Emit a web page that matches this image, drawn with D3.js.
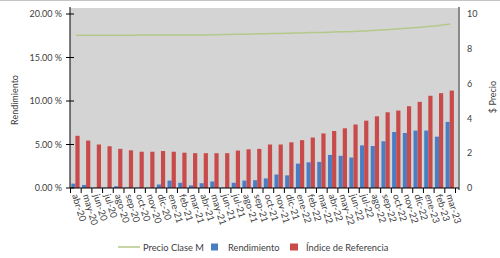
<!DOCTYPE html>
<html>
<head>
<meta charset="utf-8">
<script src="https://cdn.jsdelivr.net/npm/d3@7"></script>
<style>
  body { margin: 0; background: #fff; }
  svg text { font-family: Lato, "Liberation Sans", sans-serif; fill: #404040; }
</style>
</head>
<body>
<svg id="chart" width="500" height="258"></svg>
<script>
// monthly data, abr-20 .. mar-23
var months = ['abr-20','may-20','jun-20','jul-20','ago-20','sep-20','oct-20','nov-20','dic-20',
  'ene-21','feb-21','mar-21','abr-21','may-21','jun-21','jul-21','ago-21','sep-21','oct-21','nov-21','dic-21',
  'ene-22','feb-22','mar-22','abr-22','may-22','jun-22','jul-22','ago-22','sep-22','oct-22','nov-22','dic-22',
  'ene-23','feb-23','mar-23'];

// Rendimiento (%)
var rendimiento = [0.5,0.35,0.05,0.05,0.2,0.05,0.05,0.05,0.4,0.85,0.6,0.3,
  0.55,0.75,0.05,0.6,0.85,0.9,1.1,1.55,1.45,2.8,2.95,3.0,
  3.8,3.7,3.5,4.9,4.83,5.37,6.44,6.32,6.6,6.6,5.9,7.6];

// Indice de Referencia (%)
var indice = [6.0,5.45,5.0,4.8,4.5,4.33,4.17,4.17,4.25,4.17,4.06,4.0,
  4.0,4.0,4.0,4.3,4.45,4.5,5.0,5.0,5.25,5.5,5.8,6.27,
  6.55,6.86,7.3,7.74,8.24,8.7,8.9,9.4,9.9,10.6,10.9,11.2];

// Precio Clase M ($), right axis
var precio = [8.78,8.78,8.78,8.78,8.78,8.78,8.79,8.79,8.79,8.79,8.80,8.80,
  8.80,8.81,8.82,8.83,8.84,8.86,8.87,8.88,8.90,8.91,8.93,8.94,
  8.96,8.98,9.00,9.03,9.06,9.10,9.14,9.18,9.23,9.28,9.34,9.42];

var leftTicks = [0, 5, 10, 15, 20];
var rightTicks = [0, 2, 4, 6, 8, 10];

var C = { blue: '#4a7ec4', red: '#c84a4a', green: '#b3c98a', bg: '#d4d4d4' };

var svg = d3.select('#chart');

// top border of the chart frame
svg.append('line').attr('x1', 0).attr('x2', 500).attr('y1', 0.5).attr('y2', 0.5)
  .attr('stroke', '#c4c4c4');

var x = d3.scaleBand().domain(months).range([70.5, 455.5]).padding(0);
var yL = d3.scaleLinear().domain([0, 20]).range([188, 14]);
var yR = d3.scaleLinear().domain([0, 10]).range([188, 14]);

// plot area
svg.append('rect').attr('x', 70).attr('y', 8).attr('width', 389).attr('height', 180)
  .attr('fill', C.bg);

var bw = 4.1;
var g = svg.append('g');
g.selectAll('.blue').data(months).enter().append('rect')
  .attr('x', function(d) { return x(d) + 0.8; })
  .attr('y', function(d, i) { return yL(rendimiento[i]); })
  .attr('width', bw)
  .attr('height', function(d, i) { return 188 - yL(rendimiento[i]); })
  .attr('fill', C.blue);
g.selectAll('.red').data(months).enter().append('rect')
  .attr('x', function(d) { return x(d) + 0.8 + bw; })
  .attr('y', function(d, i) { return yL(indice[i]); })
  .attr('width', bw + 0.1)
  .attr('height', function(d, i) { return 188 - yL(indice[i]); })
  .attr('fill', C.red);

// price line
var line = d3.line()
  .x(function(d, i) { return x(months[i]) + x.bandwidth() / 2; })
  .y(function(d) { return yR(d); })
  .curve(d3.curveMonotoneX);
svg.append('path').datum(precio).attr('d', line)
  .attr('fill', 'none').attr('stroke', C.green).attr('stroke-width', 1.5);

// left axis
var axL = svg.append('g');
axL.append('line').attr('x1', 70).attr('x2', 70).attr('y1', 7).attr('y2', 188)
  .attr('stroke', '#000');
axL.selectAll('.t').data(leftTicks).enter().append('line')
  .attr('x1', 66).attr('x2', 74)
  .attr('y1', function(d) { return yL(d); }).attr('y2', function(d) { return yL(d); })
  .attr('stroke', '#000');
axL.selectAll('text').data(leftTicks).enter().append('text')
  .attr('x', 62).attr('y', function(d) { return yL(d); }).attr('dy', '0.35em')
  .attr('text-anchor', 'end').style('font-size', '9px')
  .text(function(d) { return d3.format('.2f')(d) + ' %'; });

// right axis
var axR = svg.append('g');
axR.append('line').attr('x1', 459).attr('x2', 459).attr('y1', 7).attr('y2', 190)
  .attr('stroke', '#8a8a8a').attr('stroke-width', 2);
axR.selectAll('text').data(rightTicks).enter().append('text')
  .attr('x', 467).attr('y', function(d) { return yR(d); }).attr('dy', '0.35em')
  .style('font-size', '9px')
  .text(function(d) { return d; });

// bottom axis
var axB = svg.append('g');
axB.append('line').attr('x1', 70).attr('x2', 459).attr('y1', 188).attr('y2', 188)
  .attr('stroke', '#000');
axB.selectAll('.t').data(months.concat(['end'])).enter().append('line')
  .attr('x1', function(d, i) { return x.range()[0] + i * x.step(); })
  .attr('x2', function(d, i) { return x.range()[0] + i * x.step(); })
  .attr('y1', 188).attr('y2', 193)
  .attr('stroke', '#000');
axB.selectAll('text').data(months).enter().append('text')
  .attr('transform', function(d) {
    return 'translate(' + (x(d) + x.bandwidth() / 2 - 3) + ',195) rotate(73)';
  })
  .attr('dy', '0.1em')
  .style('font-size', '9.5px')
  .text(function(d) { return d; });

// axis titles
svg.append('text').attr('transform', 'translate(18,100) rotate(-90)')
  .attr('text-anchor', 'middle').style('font-size', '9px').text('Rendimiento');
svg.append('text').attr('transform', 'translate(496,97) rotate(-90)')
  .attr('text-anchor', 'middle').style('font-size', '9px').text('$ Precio');

// legend
var lg = svg.append('g');
lg.append('line').attr('x1', 118).attr('x2', 140).attr('y1', 247).attr('y2', 247)
  .attr('stroke', C.green).attr('stroke-width', 1.5);
lg.append('text').attr('x', 143).attr('y', 250.5).style('font-size', '9.3px').text('Precio Clase M');
lg.append('rect').attr('x', 211).attr('y', 243.5).attr('width', 7).attr('height', 7).attr('fill', C.blue);
lg.append('text').attr('x', 228).attr('y', 250.5).style('font-size', '9.3px').text('Rendimiento');
lg.append('rect').attr('x', 290).attr('y', 243.5).attr('width', 8).attr('height', 7).attr('fill', C.red);
lg.append('text').attr('x', 306).attr('y', 250.5).style('font-size', '9.3px').text('Índice de Referencia');
</script>
</body>
</html>
